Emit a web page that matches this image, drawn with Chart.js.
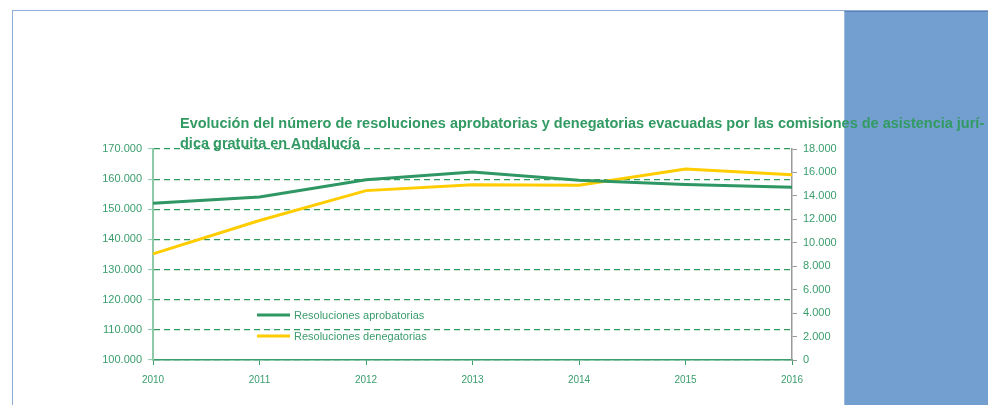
<!DOCTYPE html>
<html lang="es">
<head>
<meta charset="utf-8">
<title>Resoluciones comisiones de asistencia jurídica gratuita</title>
<script src="https://cdn.jsdelivr.net/npm/chart.js@4/dist/chart.umd.min.js"></script>
<style>
  html, body { margin: 0; padding: 0; background: #fff; }
  #wrap { position: relative; width: 988px; height: 405px; overflow: hidden; }
  #frame { position: absolute; left: 12px; top: 10px; width: 990px; height: 400px; border-left: 1px solid #8eaed8; border-top: 1px solid #8eaed8; }
  #panel { position: absolute; left: 844px; top: 11px; width: 150px; height: 400px; background: #729fcf; border-top: 1px solid #5a80b4; border-left: 1px solid #9dbde0; }
  #chart { position: absolute; left: 0; top: 0; z-index: 2; }
  #title { position: absolute; left: 180px; top: 113px; z-index: 3; font: bold 14.5px "Liberation Sans", Arial, sans-serif; line-height: 20px; color: #329a63; white-space: nowrap; }
</style>
</head>
<body>
<div id="wrap">
  <div id="frame"></div>
  <div id="panel"></div>
  <canvas id="chart" width="988" height="405"></canvas>
  <div id="title">Evolución del número de resoluciones aprobatorias y denegatorias evacuadas por las comisiones de asistencia jurí-<br>dica gratuita en Andalucía</div>
</div>
<script>
// Datos
const years = ['2010', '2011', '2012', '2013', '2014', '2015', '2016'];
const aprobatorias = [152000, 154100, 159800, 162400, 159600, 158200, 157300];
const denegatorias = [9050, 11900, 14450, 14950, 14900, 16300, 15800];
const seriesLabels = ['Resoluciones aprobatorias', 'Resoluciones denegatorias'];
const seriesColors = ['#2f9763', '#ffcc00'];

const GREEN = '#3a9d6c';
const FONT = '"Liberation Sans", Arial, sans-serif';

function fmt(v) { return String(v).replace(/\B(?=(\d{3})+(?!\d))/g, '.'); }

// leyenda dibujada dentro del área del gráfico
const insideLegend = {
  id: 'insideLegend',
  afterDatasetsDraw(chart) {
    const ctx = chart.ctx;
    ctx.save();
    ctx.font = '11px ' + FONT;
    ctx.textBaseline = 'middle';
    chart.data.datasets.forEach((ds, i) => {
      const y = 315 + i * 21;
      ctx.strokeStyle = ds.borderColor;
      ctx.lineWidth = 3;
      ctx.beginPath();
      ctx.moveTo(257, y);
      ctx.lineTo(290, y);
      ctx.stroke();
      ctx.fillStyle = GREEN;
      ctx.fillText(ds.label, 294, y + 1);
    });
    ctx.restore();
  }
};

new Chart(document.getElementById('chart'), {
  type: 'line',
  data: {
    labels: years,
    datasets: [
      { label: seriesLabels[0], data: aprobatorias, yAxisID: 'y', borderColor: seriesColors[0], borderWidth: 3, pointRadius: 0, tension: 0 },
      { label: seriesLabels[1], data: denegatorias, yAxisID: 'y1', borderColor: seriesColors[1], borderWidth: 3, pointRadius: 0, tension: 0 }
    ]
  },
  options: {
    responsive: false,
    animation: false,
    layout: { padding: { top: 149, left: 0, right: 0, bottom: 0 } },
    plugins: { legend: { display: false }, title: { display: false }, tooltip: { enabled: false } },
    scales: {
      x: {
        offset: false,
        afterFit: s => { s.height = 45; },
        grid: { drawOnChartArea: false, drawTicks: true, tickLength: 5, color: GREEN },
        border: { color: GREEN, width: 1.5 },
        ticks: { color: GREEN, font: { family: FONT, size: 10 }, padding: 9, maxRotation: 0 }
      },
      y: {
        position: 'left',
        min: 100000, max: 170000,
        afterFit: s => { s.width = 153; },
        grid: { color: '#2e9a5e', lineWidth: 1.2, tickLength: 5, tickColor: '#8fcaa8', tickWidth: 1, tickBorderDash: [] },
        border: { color: '#8fcaa8', width: 2, dash: [6, 4] },
        ticks: { stepSize: 10000, color: GREEN, font: { family: FONT, size: 11 }, padding: 6, callback: v => fmt(v) }
      },
      y1: {
        position: 'right',
        min: 0, max: 18000,
        afterFit: s => { s.width = 196; },
        grid: { drawOnChartArea: false, tickLength: 5, color: '#9a9a9a' },
        border: { color: '#9a9a9a', width: 1.5 },
        ticks: { stepSize: 2000, color: GREEN, font: { family: FONT, size: 11 }, padding: 6, callback: v => fmt(v) }
      }
    }
  },
  plugins: [insideLegend]
});
</script>
</body>
</html>
